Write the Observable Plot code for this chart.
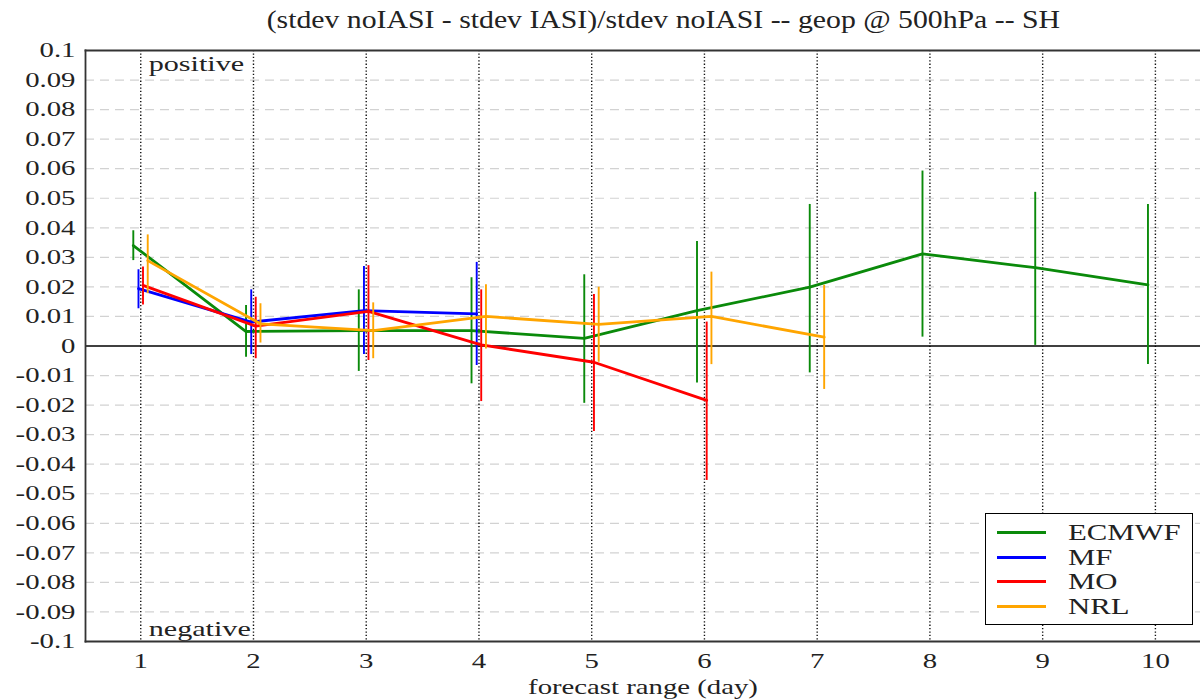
<!DOCTYPE html>
<html><head><meta charset="utf-8">
<script src="https://cdn.jsdelivr.net/npm/d3@7"></script>
<script src="https://cdn.jsdelivr.net/npm/@observablehq/plot@0.6"></script>
<style>
body{margin:0;background:#fff;}
#wrap{position:relative;width:1200px;height:699px;overflow:hidden;font-family:"Liberation Serif","DejaVu Serif",serif;color:#222;}
#chart{position:absolute;left:0;top:0;}
#title{position:absolute;top:5px;left:0;width:1326px;text-align:center;font-size:25px;line-height:30px;}
#title span{display:inline-block;transform:scaleX(1.19);transform-origin:50% 50%;}
#legend{position:absolute;left:985px;top:513px;width:206px;height:110px;border:1.5px solid #000;background:#fff;}
.item{position:absolute;left:0;height:24px;width:206px;}
.item .sw{position:absolute;left:11px;top:11px;width:49px;height:3px;}
.item .lb{position:absolute;left:82px;top:-2px;font-size:24px;line-height:28px;transform:scaleX(1.28);transform-origin:0 50%;white-space:nowrap;}
</style></head><body>
<div id="wrap"><div id="chart"></div><div id="title"><span>(stdev noIASI - stdev IASI)/stdev noIASI -- geop @ 500hPa -- SH</span></div><div id="legend"></div></div>
<script>
// ---- data ----
const days = [1, 2, 3, 4, 5, 6, 7, 8, 9, 10];
const yTicks = [-0.1, -0.09, -0.08, -0.07, -0.06, -0.05, -0.04, -0.03, -0.02, -0.01, 0, 0.01, 0.02, 0.03, 0.04, 0.05, 0.06, 0.07, 0.08, 0.09, 0.1];
const seriesNames = ["ECMWF", "MF", "MO", "NRL"];

const ecmwfDays = [1, 2, 3, 4, 5, 6, 7, 8, 9, 10];
const ecmwfMean = [0.034, 0.0049, 0.0052, 0.0052, 0.0026, 0.012, 0.0199, 0.0312, 0.0265, 0.0207];
const ecmwfLow  = [0.0289, -0.0038, -0.0086, -0.0128, -0.0194, -0.0125, -0.0091, 0.003, 0.0002, -0.0063];
const ecmwfHigh = [0.039, 0.0137, 0.019, 0.0231, 0.0241, 0.0354, 0.0479, 0.0592, 0.052, 0.0479];

const mfDays = [1, 2, 3, 4];
const mfMean = [0.0194, 0.0081, 0.012, 0.0109];
const mfLow  = [0.0126, -0.0029, -0.0029, -0.0066];
const mfHigh = [0.0258, 0.019, 0.0269, 0.0283];

const moDays = [1, 2, 3, 4, 5, 6];
const moMean = [0.0205, 0.0067, 0.0117, 0.0004, -0.0055, -0.0184];
const moLow  = [0.0139, -0.0043, -0.0049, -0.0188, -0.0289, -0.0455];
const moHigh = [0.0267, 0.0165, 0.0272, 0.019, 0.0174, 0.0081];

const nrlDays = [1, 2, 3, 4, 5, 6, 7];
const nrlMean = [0.0289, 0.0075, 0.0052, 0.01, 0.0073, 0.01, 0.003];
const nrlLow  = [0.0177, 0.001, -0.0043, -0.001, -0.0055, -0.0063, -0.0147];
const nrlHigh = [0.0376, 0.0143, 0.0146, 0.0207, 0.0199, 0.025, 0.0205];

// ---- styling ----
const colors = {ECMWF: "#0a8a0a", MF: "#0000ff", MO: "#ff0000", NRL: "#ffa500"};
const dodge = {ECMWF: -0.066, MF: -0.02, MO: 0.02, NRL: 0.062};
const FONT = "'Liberation Serif','DejaVu Serif',serif";

const build = (name, ds, m, lo, hi) => ds.map((d, i) => ({series: name, day: d, mean: m[i], low: lo[i], high: hi[i]}));
const series = [
  build("ECMWF", ecmwfDays, ecmwfMean, ecmwfLow, ecmwfHigh),
  build("MF", mfDays, mfMean, mfLow, mfHigh),
  build("MO", moDays, moMean, moLow, moHigh),
  build("NRL", nrlDays, nrlMean, nrlLow, nrlHigh)
];

const fmt = d => String(+d.toFixed(2));
const seriesMarks = series.flatMap(rows => {
  const name = rows[0].series;
  const X = d => d.day + dodge[name];
  return [
    Plot.ruleX(rows, {x: X, y1: "low", y2: "high", stroke: colors[name], strokeWidth: 1.9}),
    Plot.line(rows, {x: X, y: "mean", stroke: colors[name], strokeWidth: 2.8})
  ];
});

const chart = Plot.plot({
  width: 1200,
  height: 699,
  marginTop: 50,
  marginBottom: 58,
  marginLeft: 85,
  marginRight: 0,
  style: {fontFamily: FONT, color: "#222", background: "#fff"},
  x: {domain: [0.51, 10.4]},
  y: {domain: [-0.1, 0.1]},
  marks: [
    Plot.ruleY(yTicks.filter(d => d !== 0 && Math.abs(d) !== 0.1), {stroke: "#d2d2d2", strokeWidth: 1.2, strokeDasharray: "9,6"}),
    Plot.ruleX(days, {stroke: "#111", strokeWidth: 1.4, strokeDasharray: "1.3,2.1"}),
    Plot.ruleY([0], {stroke: "#000", strokeWidth: 1.3}),
    ...seriesMarks,
    Plot.text(["positive"], {x: () => 1, text: d => d, frameAnchor: "top", lineAnchor: "middle", textAnchor: "start", dx: 8, dy: 13, fontSize: 22, fill: "#222", fontFamily: FONT}),
    Plot.text(["negative"], {x: () => 1, text: d => d, frameAnchor: "bottom", lineAnchor: "middle", textAnchor: "start", dx: 8, dy: -13, fontSize: 22, fill: "#222", fontFamily: FONT}),
    Plot.frame({anchor: "top", stroke: "#333", strokeWidth: 1.8}),
    Plot.frame({anchor: "bottom", stroke: "#333", strokeWidth: 1.8}),
    Plot.frame({anchor: "left", stroke: "#333", strokeWidth: 1.8}),
    Plot.axisY(yTicks, {tickSize: 0, tickPadding: 10, fontSize: 21, fontFamily: FONT, tickFormat: fmt, label: null}),
    Plot.axisX(days, {tickSize: 0, tickPadding: 12, fontSize: 21, fontFamily: FONT, tickFormat: d => String(d), label: null}),
    Plot.text(["forecast range (day)"], {text: d => d, frameAnchor: "bottom", lineAnchor: "middle", dy: 46, fontSize: 21, fill: "#222", fontFamily: FONT})
  ]
});
document.getElementById("chart").appendChild(chart);

// horizontal stretch of the glyphs, as in the reference (about each text's own anchor)
const S = 1.37;
chart.querySelectorAll("text").forEach(t => {
  const bb = t.getBBox();
  const anchor = (t.getAttribute("text-anchor") || getComputedStyle(t).textAnchor || "start");
  const ox = anchor === "end" ? bb.x + bb.width : anchor === "middle" ? bb.x + bb.width / 2 : bb.x;
  const tr = t.getAttribute("transform") || "";
  t.setAttribute("transform", `${tr} translate(${ox},0) scale(${S},1) translate(${-ox},0)`.trim());
});

// legend
const leg = document.getElementById("legend");
seriesNames.forEach((name, i) => {
  const it = document.createElement("div");
  it.className = "item";
  it.style.top = (6 + i * 24.6) + "px";
  it.innerHTML = `<div class="sw" style="background:${colors[name]}"></div><div class="lb">${name}</div>`;
  leg.appendChild(it);
});
</script>
</body></html>
